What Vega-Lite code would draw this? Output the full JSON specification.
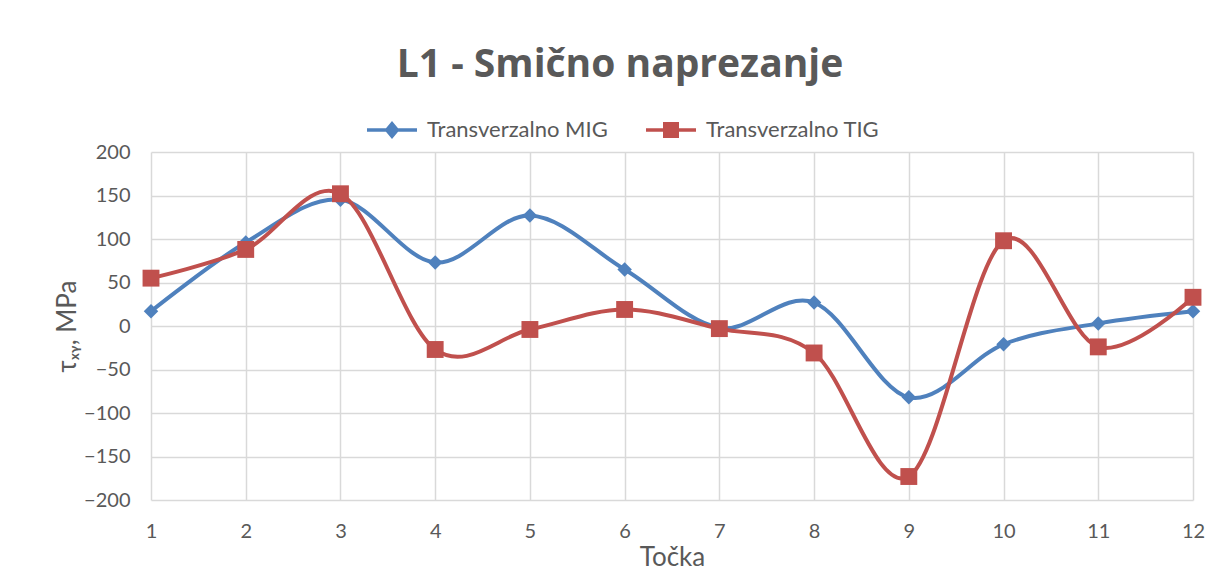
{
  "$schema": "https://vega.github.io/schema/vega-lite/v6.json",
  "autosize": "none",
  "width": 1042,
  "height": 348,
  "padding": {"left": 151, "top": 152, "right": 27, "bottom": 81},
  "background": "white",
  "title": {
    "text": "L1 - Smično naprezanje",
    "font": "Open Sans",
    "fontSize": 39,
    "fontWeight": "bold",
    "color": "#595959",
    "anchor": "middle",
    "frame": "group",
    "dx": -52,
    "offset": 20
  },
  "config": {
    "view": {"stroke": null},
    "axis": {"labelFont": "Lato", "titleFont": "Lato", "labelColor": "#595959", "titleColor": "#595959", "gridColor": "#D9D9D9", "gridWidth": 1.5}
  },
  "data": {
    "values": [
      {"Tocka": 1, "serija": "Transverzalno MIG", "tau": 17},
      {"Tocka": 2, "serija": "Transverzalno MIG", "tau": 96},
      {"Tocka": 3, "serija": "Transverzalno MIG", "tau": 145},
      {"Tocka": 4, "serija": "Transverzalno MIG", "tau": 73},
      {"Tocka": 5, "serija": "Transverzalno MIG", "tau": 127},
      {"Tocka": 6, "serija": "Transverzalno MIG", "tau": 65},
      {"Tocka": 7, "serija": "Transverzalno MIG", "tau": -2},
      {"Tocka": 8, "serija": "Transverzalno MIG", "tau": 27},
      {"Tocka": 9, "serija": "Transverzalno MIG", "tau": -82},
      {"Tocka": 10, "serija": "Transverzalno MIG", "tau": -21},
      {"Tocka": 11, "serija": "Transverzalno MIG", "tau": 3},
      {"Tocka": 12, "serija": "Transverzalno MIG", "tau": 17},
      {"Tocka": 1, "serija": "Transverzalno TIG", "tau": 55},
      {"Tocka": 2, "serija": "Transverzalno TIG", "tau": 88},
      {"Tocka": 3, "serija": "Transverzalno TIG", "tau": 152},
      {"Tocka": 4, "serija": "Transverzalno TIG", "tau": -27},
      {"Tocka": 5, "serija": "Transverzalno TIG", "tau": -4},
      {"Tocka": 6, "serija": "Transverzalno TIG", "tau": 19},
      {"Tocka": 7, "serija": "Transverzalno TIG", "tau": -3},
      {"Tocka": 8, "serija": "Transverzalno TIG", "tau": -31},
      {"Tocka": 9, "serija": "Transverzalno TIG", "tau": -173},
      {"Tocka": 10, "serija": "Transverzalno TIG", "tau": 98},
      {"Tocka": 11, "serija": "Transverzalno TIG", "tau": -24},
      {"Tocka": 12, "serija": "Transverzalno TIG", "tau": 33}
    ]
  },
  "encoding": {
    "x": {
      "field": "Tocka", "type": "quantitative",
      "scale": {"domain": [1, 12], "nice": false, "zero": false},
      "axis": {"values": [1,2,3,4,5,6,7,8,9,10,11,12], "title": "Točka", "titleFontSize": 26, "titleFontWeight": "normal", "titlePadding": 3, "labelFontSize": 20, "labelPadding": 21, "domain": false, "ticks": false, "labelFlush": false}
    },
    "y": {
      "field": "tau", "type": "quantitative",
      "scale": {"domain": [-200, 200], "nice": false},
      "axis": {"values": [-200,-150,-100,-50,0,50,100,150,200], "title": "τₓᵧ, MPa", "titleFontSize": 26, "titleFontWeight": "normal", "titlePadding": 3, "labelFontSize": 20, "labelPadding": 21, "domain": false, "ticks": false}
    },
    "color": {
      "field": "serija", "type": "nominal",
      "scale": {"domain": ["Transverzalno MIG", "Transverzalno TIG"], "range": ["#4F81BD", "#C0504D"]},
      "legend": {
        "title": null,
        "orient": "none",
        "legendX": 216,
        "legendY": -47,
        "direction": "horizontal",
        "labelFont": "Lato",
        "labelFontSize": 22,
        "labelColor": "#595959",
        "labelLimit": 400,
        "symbolSize": 2500,
        "symbolStrokeWidth": 0,
        "symbolOpacity": 1,
        "labelOffset": 10,
        "columnPadding": 38,
        "encode": {
          "symbols": {
            "update": {
              "shape": {"signal": "datum.value === 'Transverzalno MIG' ? 'M-1,-0.07H1V0.07H-1Z M-0.3,0L0,-0.36L0.3,0L0,0.36Z' : 'M-1,-0.07H1V0.07H-1Z M-0.32,-0.32H0.32V0.32H-0.32Z'"},
              "strokeWidth": {"value": 0}
            }
          }
        }
      }
    }
  },
  "layer": [
    {
      "mark": {"type": "line", "interpolate": "cardinal", "strokeWidth": 4}
    },
    {
      "mark": {"type": "point", "filled": true, "opacity": 1, "strokeWidth": 0},
      "encoding": {
        "shape": {"condition": {"test": "datum.serija === 'Transverzalno MIG'", "value": "diamond"}, "value": "square"},
        "size": {"condition": {"test": "datum.serija === 'Transverzalno MIG'", "value": 210}, "value": 285}
      }
    }
  ]
}
